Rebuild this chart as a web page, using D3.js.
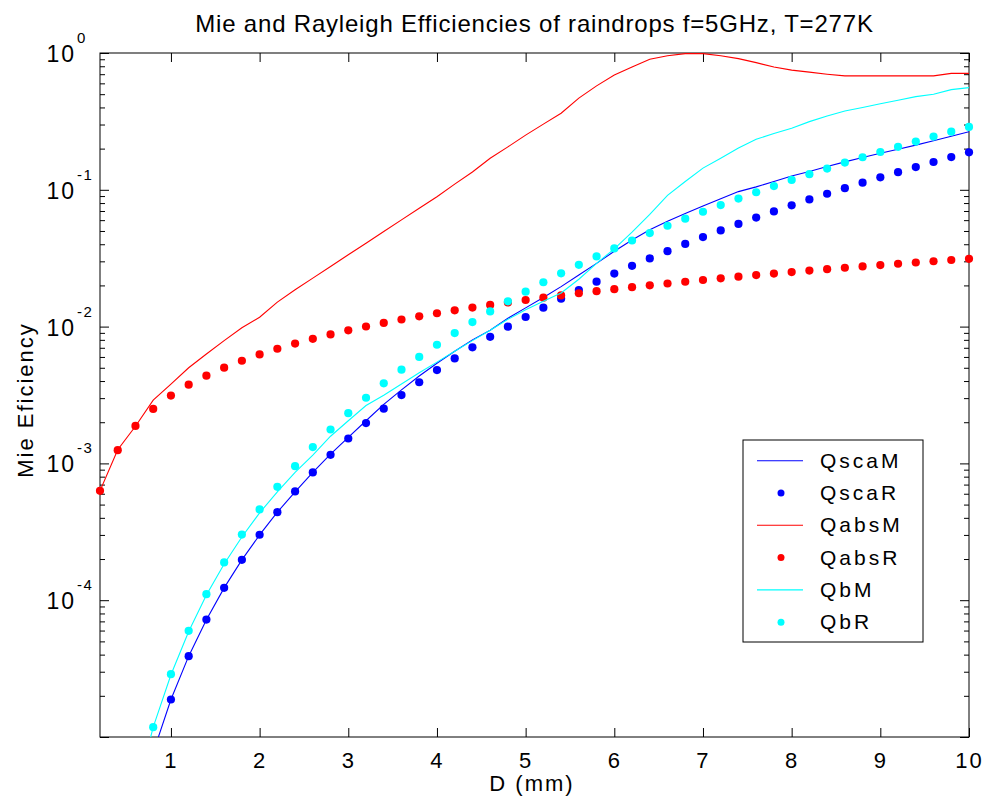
<!DOCTYPE html>
<html>
<head>
<meta charset="utf-8">
<script src="https://d3js.org/d3.v7.min.js"></script>
<style>
body{margin:0;background:#fff;}
svg{display:block;}
text{font-family:Arial,"Liberation Sans",Helvetica,sans-serif;fill:#000;}
</style>
</head>
<body>
<div id="chart"></div>
<script>
// drop diameter (mm)
var D = [0.2,0.4,0.6,0.8,1,1.2,1.4,1.6,1.8,2,
         2.2,2.4,2.6,2.8,3,3.2,3.4,3.6,3.8,4,
         4.2,4.4,4.6,4.8,5,5.2,5.4,5.6,5.8,6,
         6.2,6.4,6.6,6.8,7,7.2,7.4,7.6,7.8,8,
         8.2,8.4,8.6,8.8,9,9.2,9.4,9.6,9.8,10];

// efficiencies
var QscaM = [3.0e-8,4.8e-7,2.44e-6,7.7e-6,1.88e-5,3.9e-5,7.2e-5,1.23e-4,1.97e-4,3.0e-4,
             4.4e-4,6.2e-4,8.6e-4,1.17e-3,1.55e-3,2.05e-3,2.7e-3,3.45e-3,4.35e-3,5.4e-3,
             6.6e-3,8.0e-3,9.4e-3,0.0115,0.0137,0.0163,0.0196,0.0238,0.029,0.0355,
             0.043,0.051,0.059,0.067,0.076,0.086,0.097,0.105,0.115,0.126,
             0.136,0.148,0.160,0.172,0.185,0.198,0.212,0.228,0.246,0.266];
var QscaR = [3.0e-8,4.8e-7,2.43e-6,7.7e-6,1.88e-5,3.9e-5,7.22e-5,1.232e-4,1.973e-4,3.01e-4,
             4.4e-4,6.24e-4,8.59e-4,1.155e-3,1.52e-3,1.97e-3,2.51e-3,3.16e-3,3.92e-3,4.81e-3,
             5.85e-3,7.05e-3,8.42e-3,9.98e-3,0.01175,0.01374,0.01599,0.01849,0.0213,0.0244,
             0.0278,0.0315,0.0356,0.0402,0.0451,0.0505,0.0563,0.0627,0.0695,0.077,
             0.085,0.0936,0.1028,0.1127,0.1233,0.1346,0.1467,0.1597,0.1734,0.188];
var QabsM = [6.3e-4,1.26e-3,1.87e-3,2.9e-3,3.8e-3,5.0e-3,6.3e-3,7.9e-3,9.8e-3,0.0117,
             0.0151,0.0186,0.0226,0.0275,0.0335,0.0407,0.0495,0.0603,0.0733,0.089,
             0.110,0.135,0.170,0.206,0.251,0.302,0.363,0.468,0.575,0.69,
             0.79,0.90,0.955,0.99,0.99,0.955,0.91,0.85,0.79,0.75,
             0.725,0.70,0.68,0.68,0.68,0.68,0.68,0.68,0.71,0.71];
var QabsR = [6.3e-4,1.25e-3,1.88e-3,2.5e-3,3.13e-3,3.76e-3,4.38e-3,5.01e-3,5.63e-3,6.26e-3,
             6.89e-3,7.51e-3,8.14e-3,8.76e-3,9.39e-3,0.01002,0.01064,0.01127,0.01189,0.01252,
             0.01315,0.01377,0.0144,0.01502,0.01565,0.01628,0.0169,0.01753,0.01815,0.01878,
             0.01941,0.02003,0.02066,0.02128,0.02191,0.02254,0.02316,0.02379,0.02441,0.02504,
             0.02567,0.02629,0.02692,0.02754,0.02817,0.0288,0.02942,0.03005,0.03067,0.0313];
var QbM = [4.6e-8,7.4e-7,3.7e-6,1.18e-5,2.85e-5,5.9e-5,1.09e-4,1.84e-4,2.9e-4,4.35e-4,
           6.2e-4,8.6e-4,1.15e-3,1.58e-3,2.05e-3,2.65e-3,3.15e-3,3.8e-3,4.6e-3,5.5e-3,
           6.6e-3,7.9e-3,9.4e-3,0.0113,0.0133,0.0153,0.0176,0.0222,0.029,0.037,
           0.049,0.066,0.091,0.115,0.144,0.170,0.202,0.234,0.258,0.282,
           0.315,0.346,0.377,0.40,0.425,0.452,0.48,0.50,0.54,0.558];
var QbR = [4.6e-8,7.4e-7,3.73e-6,1.18e-5,2.88e-5,5.97e-5,1.106e-4,1.887e-4,3.02e-4,4.61e-4,
           6.74e-4,9.55e-4,1.316e-3,1.77e-3,2.33e-3,3.02e-3,3.85e-3,4.84e-3,6.0e-3,7.37e-3,
           8.96e-3,0.0108,0.0129,0.0153,0.018,0.0211,0.0245,0.0283,0.0326,0.0373,
           0.0426,0.0483,0.0546,0.0615,0.0691,0.0773,0.0862,0.096,0.1065,0.118,
           0.13,0.143,0.158,0.173,0.189,0.206,0.225,0.245,0.266,0.288];

var xTicks = [1,2,3,4,5,6,7,8,9,10];
var yExponents = [-5,-4,-3,-2,-1,0];
var yLabelExponents = [-4,-3,-2,-1,0];

var titleText = 'Mie and Rayleigh Efficiencies of raindrops f=5GHz, T=277K';
var xLabelText = 'D (mm)';
var yLabelText = 'Mie Eficiency';

(function(d3){
    // series in drawing order (matlab plot order)
    var series = [
        {name:'QscaM', values:QscaM, color:'#0000ff', type:'line'},
        {name:'QscaR', values:QscaR, color:'#0000ff', type:'dot'},
        {name:'QabsM', values:QabsM, color:'#ff0000', type:'line'},
        {name:'QabsR', values:QabsR, color:'#ff0000', type:'dot'},
        {name:'QbM',   values:QbM,   color:'#00ffff', type:'line'},
        {name:'QbR',   values:QbR,   color:'#00ffff', type:'dot'}
    ];

    var W = 987, H = 807,
        pL = 100, pR = 969, pT = 53, pB = 737;

    var svg = d3.select('#chart').append('svg')
        .attr('width', W)
        .attr('height', H);

    var x = d3.scaleLinear().domain([0.2, 10]).range([pL, pR]);
    var y = d3.scaleLog().domain([1e-5, 1]).range([pB, pT]);

    var yMajor = yExponents.map(function(e){ return Math.pow(10, e); });
    var yMinor = [];
    yExponents.slice(0, -1).forEach(function(e){
        for (var k = 2; k <= 9; k++) yMinor.push(k * Math.pow(10, e));
    });

    svg.append('clipPath').attr('id', 'plotclip')
        .append('rect')
        .attr('x', pL).attr('y', pT)
        .attr('width', pR - pL).attr('height', pB - pT);

    // axes (ticks pointing inward)
    var axisG = svg.append('g').attr('class', 'axes');

    axisG.append('g')
        .attr('transform', 'translate(0,' + pB + ')')
        .call(d3.axisBottom(x).tickValues(xTicks).tickSize(-9).tickSizeOuter(0)
            .tickPadding(15).tickFormat(d3.format('d')));
    axisG.append('g')
        .attr('transform', 'translate(0,' + pT + ')')
        .call(d3.axisTop(x).tickValues(xTicks).tickSize(-9).tickSizeOuter(0).tickFormat(''));

    [['left', d3.axisLeft], ['right', d3.axisRight]].forEach(function(a){
        var pos = a[0] == 'left' ? pL : pR;
        axisG.append('g')
            .attr('transform', 'translate(' + pos + ',0)')
            .call(a[1](y).tickValues(yMajor).tickSize(-9).tickSizeOuter(0).tickFormat(''));
        axisG.append('g')
            .attr('transform', 'translate(' + pos + ',0)')
            .call(a[1](y).tickValues(yMinor).tickSize(-5).tickSizeOuter(0).tickFormat(''));
    });

    axisG.selectAll('.domain').remove();
    axisG.selectAll('.tick line').attr('stroke', '#000').attr('stroke-width', 1);
    axisG.selectAll('.tick text')
        .attr('font-family', 'Arial, "Liberation Sans", sans-serif')
        .attr('font-size', 22)
        .attr('letter-spacing', '2px')
        .attr('fill', '#000');

    // y tick labels 10^n
    var yLab = svg.append('g').attr('class', 'ylabels');
    yLabelExponents.forEach(function(e){
        var py = y(Math.pow(10, e));
        yLab.append('text')
            .attr('x', 76).attr('y', py + 9)
            .attr('text-anchor', 'end')
            .attr('font-size', 23)
            .attr('letter-spacing', '2px')
            .text('10');
        yLab.append('text')
            .attr('x', 77).attr('y', py - 10)
            .attr('font-size', 15)
            .attr('letter-spacing', '1.5px')
            .text(e);
    });

    // box
    svg.append('rect')
        .attr('x', pL).attr('y', pT)
        .attr('width', pR - pL).attr('height', pB - pT)
        .attr('fill', 'none').attr('stroke', '#000').attr('stroke-width', 1);

    // data
    var plot = svg.append('g').attr('class', 'plot');
    var line = d3.line()
        .x(function(d){ return x(d[0]); })
        .y(function(d){ return y(d[1]); });

    series.forEach(function(s){
        var pts = D.map(function(d, i){ return [d, s.values[i]]; });
        if (s.type == 'line') {
            plot.append('path')
                .datum(pts)
                .attr('clip-path', 'url(#plotclip)')
                .attr('fill', 'none')
                .attr('stroke', s.color)
                .attr('stroke-width', 1.1)
                .attr('d', line);
        } else {
            // markers outside the axes are dropped, not clipped
            plot.append('g').selectAll('circle')
                .data(pts.filter(function(p){ return p[1] >= 1e-5 && p[1] <= 1; }))
                .enter().append('circle')
                .attr('cx', function(p){ return x(p[0]); })
                .attr('cy', function(p){ return y(p[1]); })
                .attr('r', 4.1)
                .attr('fill', s.color);
        }
    });

    // title + axis labels
    svg.append('text')
        .attr('x', (pL + pR) / 2).attr('y', 32)
        .attr('text-anchor', 'middle')
        .attr('font-size', 24)
        .attr('letter-spacing', '0.8px')
        .text(titleText);

    svg.append('text')
        .attr('x', 532).attr('y', 791)
        .attr('text-anchor', 'middle')
        .attr('font-size', 22)
        .attr('letter-spacing', '2px')
        .text(xLabelText);

    svg.append('text')
        .attr('transform', 'translate(33,400) rotate(-90)')
        .attr('text-anchor', 'middle')
        .attr('font-size', 22)
        .attr('letter-spacing', '2px')
        .text(yLabelText);

    // legend
    var leg = svg.append('g').attr('class', 'legend');
    leg.append('rect')
        .attr('x', 743).attr('y', 440)
        .attr('width', 180).attr('height', 202)
        .attr('fill', '#fff').attr('stroke', '#000').attr('stroke-width', 1);

    series.forEach(function(s, i){
        var ry = 460.7 + i * 32.3;
        if (s.type == 'line') {
            leg.append('line')
                .attr('x1', 757).attr('x2', 803)
                .attr('y1', ry).attr('y2', ry)
                .attr('stroke', s.color).attr('stroke-width', 1.1);
        } else {
            leg.append('circle')
                .attr('cx', 781).attr('cy', ry).attr('r', 3.5)
                .attr('fill', s.color);
        }
        leg.append('text')
            .attr('x', 820).attr('y', ry + 7)
            .attr('font-size', 21)
            .attr('letter-spacing', '3px')
            .text(s.name);
    });
}(d3));
</script>
</body>
</html>
